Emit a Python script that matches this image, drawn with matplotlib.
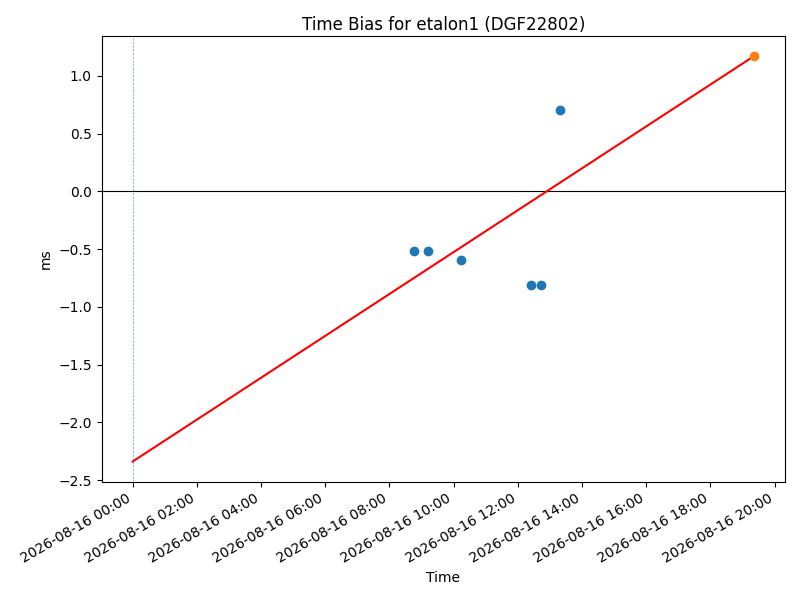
import matplotlib
matplotlib.use("Agg")
import matplotlib.pyplot as plt
import matplotlib.dates as mdates
import pandas as pd

obs_times = ["2026-08-16 08:45", "2026-08-16 09:13", "2026-08-16 10:13",
             "2026-08-16 12:24", "2026-08-16 12:43", "2026-08-16 13:19"]
obs_bias = [-0.514, -0.514, -0.592, -0.815, -0.815, 0.708]

pred_time = "2026-08-16 19:21"
pred_bias = 1.170

fit_times = ["2026-08-16 00:00", "2026-08-16 19:21"]
fit_bias = [-2.34, 1.170]

ref_time = "2026-08-16 00:00"

obs_t = pd.to_datetime(obs_times)
fit_t = pd.to_datetime(fit_times)
pred_t = pd.to_datetime(pred_time)
ref_t = pd.to_datetime(ref_time)

fig, ax = plt.subplots(figsize=(8, 6), dpi=100)
ax.axhline(0, color="black", lw=0.8)
ax.scatter(obs_t, obs_bias, color="C0", zorder=3)
ax.plot(fit_t, fit_bias, color="red", zorder=2)
ax.scatter([pred_t], [pred_bias], color="C1", zorder=3)
ax.axvline(ref_t, color="C0", ls="--", lw=0.5, alpha=0.7, zorder=4)

ax.xaxis.set_major_locator(mdates.HourLocator(byhour=range(0, 24, 2)))
ax.xaxis.set_major_formatter(mdates.DateFormatter("%Y-%m-%d %H:%M"))
ax.set_title("Time Bias for etalon1 (DGF22802)", pad=4)
ax.set_xlabel("Time")
ax.set_ylabel("ms")
fig.autofmt_xdate()
fig.subplots_adjust(left=0.127, right=0.981, top=0.94, bottom=0.197)
fig.savefig("out.png", dpi=100)
